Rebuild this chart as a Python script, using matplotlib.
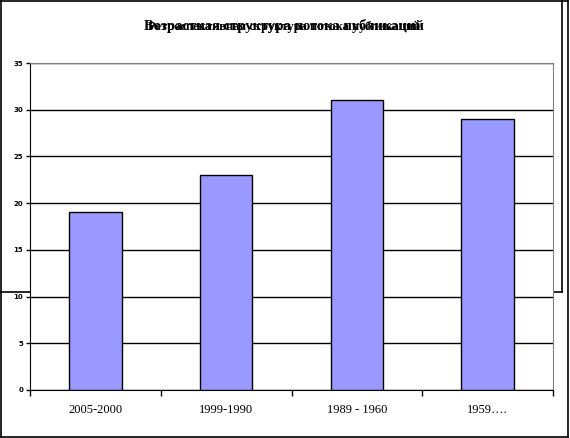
import matplotlib
matplotlib.use('Agg')
import matplotlib.pyplot as plt
from matplotlib.lines import Line2D

periodos = ['2005-2000', '1999-1990', '1989 - 1960', '1959….']
valores = [19, 23, 31, 29]
titulo_1 = 'Возрастная структура потока публикаций'
titulo_2 = 'Ретроспективная структура потока публикаций'

W, H = 570, 438
fig = plt.figure(figsize=(W / 100, H / 100), dpi=100)

# marcos del fondo (restos de otro grafico)
def linea(x0, y0, x1, y1, color='black', lw=1.2):
    fig.add_artist(Line2D([x0 / W, x1 / W], [1 - y0 / H, 1 - y1 / H],
                          color=color, lw=lw, transform=fig.transFigure, zorder=0))

linea(0.5, 0.5, 568, 0.5)
linea(0.5, 0.5, 0.5, 437)
linea(0.5, 437, 568, 437)
linea(568, 0.5, 568, 437)
linea(562, 0.5, 562, 292)
linea(0.5, 292, 562, 292)

ax = fig.add_axes([30 / W, 1 - 390 / H, 523 / W, 327 / H])
ax.set_zorder(1)
ax.set_facecolor('white')

x = range(len(valores))
ax.bar(x, valores, width=0.4, color='#9999FF', edgecolor='black', linewidth=1.0, zorder=3)

ax.set_xlim(-0.5, len(valores) - 0.5)
ax.set_ylim(0, 35)
ax.set_yticks(range(0, 36, 5))
ax.yaxis.grid(True, color='black', linewidth=1.0, zorder=0)
ax.set_axisbelow(True)

ax.set_xticks([i - 0.5 for i in range(len(valores) + 1)])
ax.set_xticklabels([])
ax.set_xticks(list(x), minor=True)
ax.set_xticklabels(periodos, minor=True, fontfamily='Liberation Serif', fontsize=9)
ax.tick_params(axis='x', which='minor', length=0, pad=10)
ax.tick_params(axis='x', which='major', length=4, direction='out', width=1)
ax.tick_params(axis='y', length=3, direction='out', width=1, pad=2)
for lab in ax.get_yticklabels():
    lab.set_fontsize(5)
    lab.set_fontweight('bold')

ax.spines['left'].set_color('black')
ax.spines['bottom'].set_color('black')
ax.spines['top'].set_color('#808080')
ax.spines['right'].set_color('#808080')

# el titulo original tiene dos textos superpuestos
fig.text(284 / W, 1 - 26 / H, titulo_1, ha='center', va='center',
         fontfamily='Liberation Serif', fontweight='bold', fontsize=10.5)
fig.text(284 / W, 1 - 27 / H, titulo_2, ha='center', va='center',
         fontfamily='Liberation Serif', fontweight='bold', fontsize=9)

fig.savefig('out.png', dpi=100)
